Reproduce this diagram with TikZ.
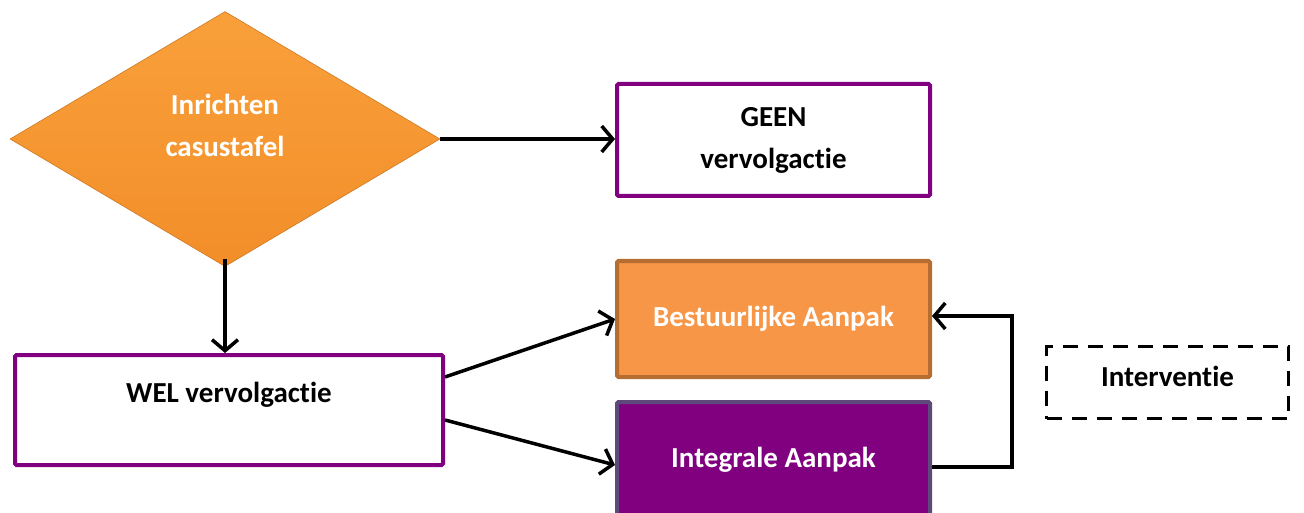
\documentclass[tikz,border=0pt]{standalone}
\usepackage{fontspec}
\setmainfont{Carlito}[Ligatures=NoCommon]
\usetikzlibrary{arrows.meta,shapes.geometric}
\definecolor{purp}{HTML}{800080}
\definecolor{orfill}{HTML}{F79646}
\definecolor{ordraw}{HTML}{B66D31}
\definecolor{intdraw}{HTML}{5F497A}
\definecolor{diatop}{HTML}{F9A03A}
\definecolor{diabot}{HTML}{F28E2A}
\begin{document}
\begin{tikzpicture}[x=1pt,y=-1pt,
  lbl/.style={font=\fontsize{29}{42}\selectfont\bfseries, align=center, inner sep=0pt},
  box/.style={rectangle, line width=4pt, rounded corners=1.5pt, minimum width=313pt, minimum height=112pt, inner sep=0pt, lbl},
  conn/.style={line width=3.5pt, -{Straight Barb[length=11pt,width=26pt]}}]
\useasboundingbox (0,0) rectangle (1304,513);
% diamond
\node[diamond, minimum width=430pt, minimum height=255pt, inner sep=0pt,
      top color=diatop, bottom color=diabot, draw=diabot!85!black, line width=0.6pt] (dia) at (225,139) {};
\node[lbl, text=white] (diatext) at (225,125) {Inrichten\\casustafel};
% boxes
\node[box, draw=purp, fill=white] (geen) at (773.5,140) {GEEN\\vervolgactie};
\node[box, draw=purp, fill=white, minimum width=428pt, minimum height=110pt] (wel) at (229,410) {};
\node[lbl] (weltext) at (229,395) {WEL vervolgactie};
\node[box, draw=ordraw, fill=orfill, text=white, minimum height=116pt] (best) at (773.5,319) {Bestuurlijke Aanpak};
\node[box, draw=intdraw, fill=purp, text=white, minimum height=116pt] (int) at (773.5,460) {Integrale Aanpak};
\node[rectangle, draw, line width=3pt, dash pattern=on 15pt off 10pt, minimum width=242pt, minimum height=72pt, inner sep=0pt] (interv) at (1167.5,382.5) {};
\node[lbl] (intervtext) at (1167.5,376) {Interventie};
\coordinate (fb) at (1012,0);
% connectors
\draw[conn] (dia.east) -- (dia.east -| geen.west);
\draw[conn] ([yshift=8pt]dia.south) -- (dia.south |- wel.north);
\draw[conn] ([yshift=33pt]wel.east) -- (best.west);
\draw[conn] ([yshift=-10pt]wel.east) -- ([yshift=-5pt]int.west);
\draw[conn] ([yshift=-7pt]int.east) -| ([yshift=3pt]fb |- best.east) -- ([yshift=3pt]best.east);
\end{tikzpicture}
\end{document}
